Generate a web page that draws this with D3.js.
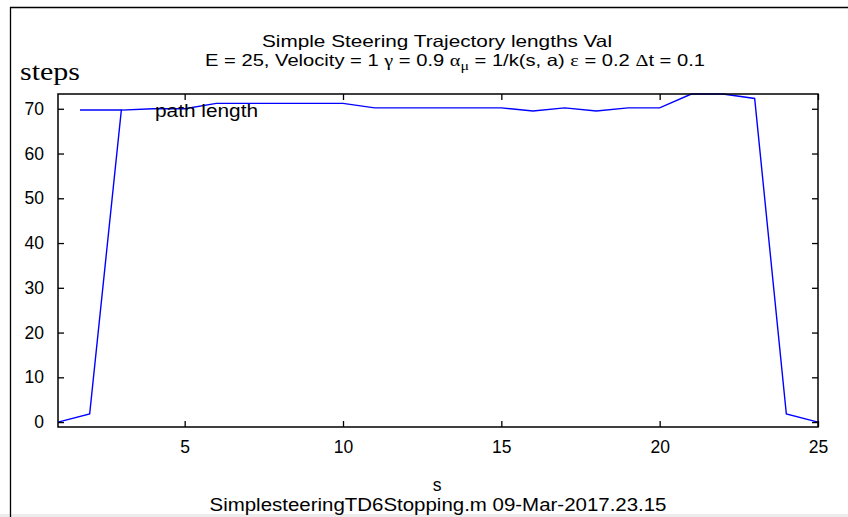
<!DOCTYPE html>
<html>
<head>
<meta charset="utf-8">
<script src="https://cdn.jsdelivr.net/npm/d3@7/dist/d3.min.js"></script>
<style>
  html, body { margin: 0; padding: 0; background: #fff; }
  svg { display: block; font-family: "Liberation Sans", Arial, sans-serif; }
  text { fill: #000; }
  .serif { font-family: "Liberation Serif", "Times New Roman", serif; }
</style>
</head>
<body>
<svg id="chart" width="848" height="517"></svg>
<script>
// Trajectory length (steps) for each start state s
const states = d3.range(1, 26);
const pathLength = [0, 1.8, 69.7, 70, 70, 71.2, 71.2, 71.2, 71.2, 71.2,
                    70.2, 70.2, 70.2, 70.2, 70.2, 69.5, 70.2, 69.5, 70.2, 70.2,
                    73.3, 73.3, 72.3, 1.8, 0];
const xTicks = [5, 10, 15, 20, 25];
const yTicks = [0, 10, 20, 30, 40, 50, 60, 70];
const seriesName = "path length";

const svg = d3.select("#chart");
const W = 848, H = 517;
const plot = { left: 58, right: 818, top: 94, bottom: 427 };

// figure frame
svg.append("rect").attr("x", 0).attr("y", 514).attr("width", W).attr("height", 3).attr("fill", "#ececec");
svg.append("path")
  .attr("d", `M10.5,${H} V7.5 H${W}`)
  .attr("fill", "none").attr("stroke", "#000").attr("stroke-width", 1.3);

const x = d3.scaleLinear().domain([1, 25]).range([plot.left, plot.right]);
const y = d3.scaleLinear().domain([-1.1, 73.3]).range([plot.bottom, plot.top]);

const tickLen = 6;
const g = svg.append("g");

// data line
const line = d3.line().x((d, i) => x(states[i])).y(d => y(d));
g.append("path")
  .datum(pathLength)
  .attr("d", line)
  .attr("fill", "none")
  .attr("stroke", "#0000ff")
  .attr("stroke-width", 1.4)
  .attr("stroke-linejoin", "miter");

// axes (box with inward ticks on all sides)
const axB = d3.axisBottom(x).tickValues(xTicks).tickSizeInner(-tickLen).tickSizeOuter(0).tickPadding(14);
const axT = d3.axisTop(x).tickValues(xTicks).tickSizeInner(-tickLen).tickSizeOuter(0).tickFormat("");
const axL = d3.axisLeft(y).tickValues(yTicks).tickSizeInner(-tickLen).tickSizeOuter(0).tickPadding(14);
const axR = d3.axisRight(y).tickValues(yTicks).tickSizeInner(-tickLen).tickSizeOuter(0).tickFormat("");

function style(sel) {
  sel.select(".domain").remove();
  sel.selectAll(".tick line").attr("stroke", "#000").attr("stroke-width", 1.3);
  sel.selectAll(".tick text")
    .style("font-family", "'Liberation Sans', Arial, sans-serif")
    .style("font-size", "17.5px").attr("fill", "#000");
}
g.append("g").attr("transform", `translate(0,${plot.bottom})`).call(axB).call(style);
g.append("g").attr("transform", `translate(0,${plot.top})`).call(axT).call(style);
g.append("g").attr("transform", `translate(${plot.left},0)`).call(axL).call(style);
g.append("g").attr("transform", `translate(${plot.right},0)`).call(axR).call(style);

g.append("rect")
  .attr("x", plot.left).attr("y", plot.top)
  .attr("width", plot.right - plot.left).attr("height", plot.bottom - plot.top)
  .attr("fill", "none").attr("stroke", "#000").attr("stroke-width", 1.5);

// legend (no box)
g.append("line").attr("x1", 80).attr("x2", 122).attr("y1", 110).attr("y2", 110)
  .attr("stroke", "#0000ff").attr("stroke-width", 1.4);
g.append("text").attr("x", 155).attr("y", 117).style("font-size", "17.5px")
  .attr("textLength", 103).attr("lengthAdjust", "spacingAndGlyphs").text(seriesName);

// titles
svg.append("text").attr("x", 437).attr("y", 47).attr("text-anchor", "middle")
  .style("font-size", "16.5px").attr("textLength", 350).attr("lengthAdjust", "spacingAndGlyphs")
  .text("Simple Steering Trajectory lengths Val");

const t2 = svg.append("text").attr("x", 455).attr("y", 66).attr("text-anchor", "middle")
  .style("font-size", "16.5px").attr("textLength", 500).attr("lengthAdjust", "spacingAndGlyphs");
t2.append("tspan").text("E = 25, Velocity = 1 ");
t2.append("tspan").attr("class", "serif").text("γ");
t2.append("tspan").text(" = 0.9 ");
t2.append("tspan").attr("class", "serif").text("α");
t2.append("tspan").attr("class", "serif").style("font-size", "13px").attr("dy", 4).text("μ");
t2.append("tspan").attr("dy", -4).text(" = 1/k(s, a) ");
t2.append("tspan").attr("class", "serif").text("ε");
t2.append("tspan").text(" = 0.2 ");
t2.append("tspan").attr("class", "serif").text("Δ");
t2.append("tspan").text("t = 0.1");

// axis labels
svg.append("text").attr("class", "serif").attr("x", 20).attr("y", 80)
  .style("font-size", "26px").attr("textLength", 60).attr("lengthAdjust", "spacingAndGlyphs")
  .text("steps");
svg.append("text").attr("x", 437).attr("y", 491).attr("text-anchor", "middle")
  .style("font-size", "17.5px").text("s");
svg.append("text").attr("x", 438).attr("y", 511).attr("text-anchor", "middle")
  .style("font-size", "17.5px").attr("textLength", 457).attr("lengthAdjust", "spacingAndGlyphs")
  .text("SimplesteeringTD6Stopping.m 09-Mar-2017.23.15");
</script>
</body>
</html>
